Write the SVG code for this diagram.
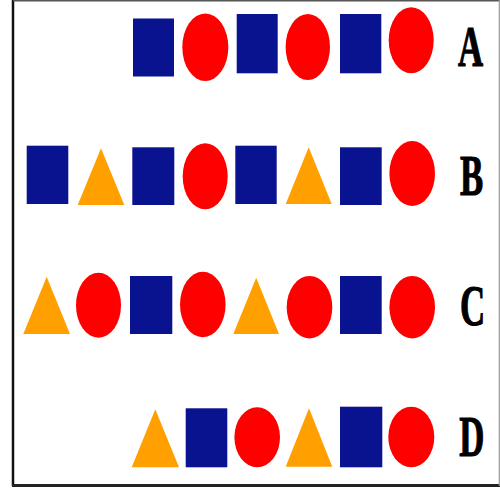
<svg xmlns="http://www.w3.org/2000/svg" width="500" height="492" viewBox="0 0 500 492">
<style>
.sq{fill:#0a138f}
.el{fill:#ff0000}
.tr{fill:#ffa000}
.lb{font-family:"Liberation Serif","Times New Roman",serif;font-weight:bold;font-size:58px;fill:#000;stroke:#000;stroke-width:1.2px;text-anchor:middle}
</style>
<rect width="500" height="492" fill="#fff"/>
<g id="frame" fill="none">
<line x1="13" y1="0" x2="13" y2="486" stroke="#111" stroke-width="2.5"/>
<line x1="12" y1="485.5" x2="500" y2="485.5" stroke="#222" stroke-width="3"/>
<line x1="13" y1="0.7" x2="500" y2="0.7" stroke="#555" stroke-width="1.5"/>
<line x1="499.3" y1="0" x2="499.3" y2="486" stroke="#999" stroke-width="1.2"/>
</g>
<g id="rowA">
<rect class="sq" x="133" y="18.5" width="41" height="58"/>
<ellipse class="el" cx="205.3" cy="47.2" rx="23" ry="33.8"/>
<rect class="sq" x="236.7" y="14" width="41" height="59.3"/>
<ellipse class="el" cx="307.8" cy="47" rx="22.2" ry="33"/>
<rect class="sq" x="340" y="14" width="41.3" height="59.3"/>
<ellipse class="el" cx="411.2" cy="40.3" rx="22.5" ry="33"/>
<text class="lb" transform="translate(470.5,66) scale(0.6,1)">A</text>
</g>
<g id="rowB">
<rect class="sq" x="26.7" y="145.7" width="41.6" height="58.3"/>
<polygon class="tr" points="101,148.3 124.3,205 77.7,205"/>
<rect class="sq" x="132.3" y="147.3" width="42" height="57.7"/>
<ellipse class="el" cx="205.2" cy="176.3" rx="22.5" ry="33"/>
<rect class="sq" x="235.3" y="145.7" width="41.4" height="58.3"/>
<polygon class="tr" points="308.7,147.3 331.7,204 285.7,204"/>
<rect class="sq" x="340" y="147.3" width="41.7" height="57.7"/>
<ellipse class="el" cx="412.2" cy="173.5" rx="22.8" ry="32.5"/>
<text class="lb" transform="translate(471.7,195) scale(0.6,1)">B</text>
</g>
<g id="rowC">
<polygon class="tr" points="46.7,276.7 70,334 23.3,334"/>
<ellipse class="el" cx="98.5" cy="305.2" rx="22.5" ry="32.5"/>
<rect class="sq" x="130" y="276" width="42.3" height="58"/>
<ellipse class="el" cx="202.8" cy="304.5" rx="22.8" ry="32.8"/>
<polygon class="tr" points="256.2,277.7 279,334 233.3,334"/>
<ellipse class="el" cx="309.5" cy="307.2" rx="22.8" ry="31.2"/>
<rect class="sq" x="340" y="276" width="41.7" height="58"/>
<ellipse class="el" cx="412.2" cy="307.2" rx="22.8" ry="31.2"/>
<text class="lb" transform="translate(472.5,324.5) scale(0.6,1)">C</text>
</g>
<g id="rowD">
<polygon class="tr" points="155.3,409.3 179,467.3 131.7,467.3"/>
<rect class="sq" x="185.7" y="408.3" width="41.6" height="59"/>
<ellipse class="el" cx="257.2" cy="437.3" rx="22.8" ry="30"/>
<polygon class="tr" points="309,408.3 332.3,466.7 285.7,466.7"/>
<rect class="sq" x="340" y="406.7" width="42.3" height="60.6"/>
<ellipse class="el" cx="411.3" cy="437" rx="23" ry="30.3"/>
<text class="lb" transform="translate(471.7,456) scale(0.6,1)">D</text>
</g>
</svg>
